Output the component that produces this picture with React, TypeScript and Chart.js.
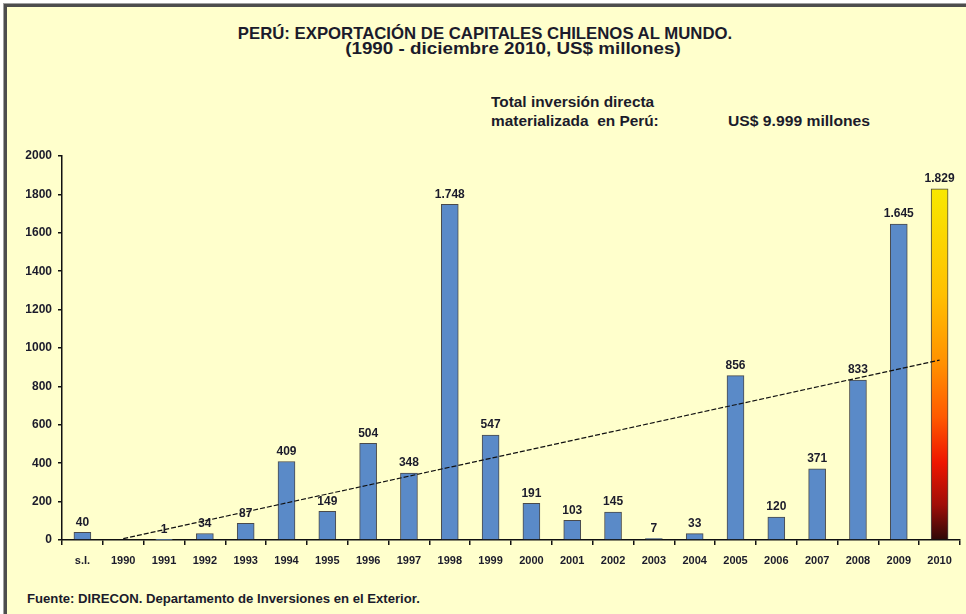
import React, { useEffect, useRef } from "react";
import { Chart, registerables } from "chart.js";

Chart.register(...registerables);

const categories = ["s.I.", "1990", "1991", "1992", "1993", "1994", "1995", "1996", "1997", "1998", "1999", "2000", "2001", "2002", "2003", "2004", "2005", "2006", "2007", "2008", "2009", "2010"];
const investment: (number | null)[] = [40, null, 1, 34, 87, 409, 149, 504, 348, 1748, 547, 191, 103, 145, 7, 33, 856, 120, 371, 833, 1645, 1829];
const trend: (number | null)[] = [null, 7, null, null, null, null, null, null, null, null, null, null, null, null, null, null, null, null, null, null, null, 937];
const yTicks = [0, 200, 400, 600, 800, 1000, 1200, 1400, 1600, 1800, 2000];

const TITLE1 = "PERÚ: EXPORTACIÓN DE CAPITALES CHILENOS AL MUNDO.";
const TITLE2 = "(1990 - diciembre 2010, US$ millones)";
const NOTE1 = "Total inversión directa";
const NOTE2 = "materializada  en Perú:";
const NOTE3 = "US$ 9.999 millones";
const SOURCE = "Fuente: DIRECON. Departamento de Inversiones en el Exterior.";

const FONT = "Arial, 'Liberation Sans', sans-serif";
const TEXT = "#1b1b2b";
const BLUE = "#5A8AC8";

function fmt(v: number): string {
  if (v >= 1000) {
    const th = Math.floor(v / 1000);
    const rest = String(v % 1000).padStart(3, "0");
    return th + "." + rest;
  }
  return String(v);
}

const labelPlugin = {
  id: "valueLabels",
  afterDatasetsDraw(chart: any) {
    const meta = chart.getDatasetMeta(0);
    const ctx = chart.ctx;
    ctx.save();
    ctx.font = `bold 12px ${FONT}`;
    ctx.fillStyle = TEXT;
    ctx.textAlign = "center";
    ctx.textBaseline = "bottom";
    meta.data.forEach((el: any, i: number) => {
      const v = investment[i];
      if (v === null || v === undefined) return;
      ctx.fillText(fmt(v), el.x, el.y - 4);
    });
    ctx.restore();
  },
};

export default function App() {
  const ref = useRef<HTMLCanvasElement | null>(null);

  useEffect(() => {
    if (!ref.current) return;
    const chart = new Chart(ref.current, {
      type: "bar",
      data: {
        labels: categories,
        datasets: [
          {
            type: "bar",
            data: investment,
            backgroundColor: (c: any) => {
              if (c.dataIndex !== categories.length - 1) return BLUE;
              const ch = c.chart;
              const ys = ch.scales && ch.scales.y;
              if (!ys || !ch.chartArea) return "#ff9900";
              const v = investment[c.dataIndex] as number;
              const top = ys.getPixelForValue(v);
              const bottom = ys.getPixelForValue(0);
              const g = ch.ctx.createLinearGradient(0, top, 0, bottom);
              g.addColorStop(0, "#F8E800");
              g.addColorStop(0.3, "#FFC000");
              g.addColorStop(0.5, "#FF9000");
              g.addColorStop(0.65, "#FF5A00");
              g.addColorStop(0.78, "#EE1500");
              g.addColorStop(0.9, "#A00E08");
              g.addColorStop(1, "#2E0808");
              return g;
            },
            borderColor: "#4a4a4a",
            borderWidth: 1,
            barThickness: 17,
            order: 2,
          } as any,
          {
            type: "line",
            data: trend,
            borderColor: "#111111",
            borderWidth: 1.2,
            borderDash: [5, 2],
            pointRadius: 0,
            spanGaps: true,
            fill: false,
            order: 1,
          } as any,
        ],
      },
      options: {
        responsive: false,
        animation: false,
        layout: { padding: { left: 0, right: 6, top: 156, bottom: 0 } },
        plugins: {
          legend: { display: false },
          tooltip: { enabled: false },
          title: { display: false },
        },
        scales: {
          x: {
            offset: true,
            grid: {
              display: true,
              offset: true,
              drawOnChartArea: false,
              drawTicks: true,
              tickLength: 5,
              color: "#111",
              lineWidth: 1.5,
            },
            border: { display: true, color: "#111", width: 1.5 },
            ticks: {
              color: TEXT,
              font: { family: FONT, size: 11, weight: "bold" },
              padding: 9,
              maxRotation: 0,
              autoSkip: false,
            },
            afterFit: (s: any) => {
              s.height = 74;
            },
          },
          y: {
            min: 0,
            max: 2000,
            afterBuildTicks: (s: any) => {
              s.ticks = yTicks.map((v) => ({ value: v }));
            },
            grid: {
              display: true,
              drawOnChartArea: false,
              drawTicks: true,
              tickLength: 4,
              color: "#111",
              lineWidth: 1.5,
            },
            border: { display: true, color: "#111", width: 1.5 },
            ticks: {
              color: TEXT,
              font: { family: FONT, size: 12, weight: "bold" },
              padding: 6,
              callback: (v: any) => String(v),
            },
            afterFit: (s: any) => {
              s.width = 62;
            },
          },
        },
      },
      plugins: [labelPlugin],
    });
    return () => chart.destroy();
  }, []);

  const txt = (extra: React.CSSProperties): React.CSSProperties => ({
    position: "absolute",
    fontFamily: FONT,
    fontWeight: "bold",
    color: TEXT,
    whiteSpace: "pre",
    lineHeight: 1,
    ...extra,
  });

  return (
    <div style={{ position: "fixed", left: 0, top: 0, width: 966, height: 614, background: "#ffffff", overflow: "hidden" }}>
      <div
        style={{
          position: "absolute",
          left: 4,
          top: 4,
          width: 980,
          height: 640,
          border: "3px solid #4d4d4d",
          boxShadow: "0 0 0 1px #a0a0a0",
          background: "#FFFFCC",
          boxSizing: "border-box",
        }}
      />
      <div style={txt({ left: 0, width: 970, textAlign: "center", top: 25, fontSize: 16.5, transform: "scaleX(1.015)", transformOrigin: "485px 0" })}>{TITLE1}</div>
      <div style={txt({ left: 0, width: 1026, textAlign: "center", top: 40, fontSize: 16.5, transform: "scaleX(1.14)", transformOrigin: "513px 0" })}>{TITLE2}</div>
      <div style={txt({ left: 491, top: 95, fontSize: 14, transform: "scaleX(1.1)", transformOrigin: "0 0" })}>{NOTE1}</div>
      <div style={txt({ left: 491, top: 114, fontSize: 14, transform: "scaleX(1.1)", transformOrigin: "0 0" })}>{NOTE2}</div>
      <div style={txt({ left: 728, top: 114, fontSize: 14, transform: "scaleX(1.12)", transformOrigin: "0 0" })}>{NOTE3}</div>
      <div style={txt({ left: 27, top: 593, fontSize: 12, transform: "scaleX(1.095)", transformOrigin: "0 0" })}>{SOURCE}</div>
      <canvas ref={ref} width={966} height={614} style={{ position: "absolute", left: 0, top: 0, width: 966, height: 614 }} />
    </div>
  );
}
